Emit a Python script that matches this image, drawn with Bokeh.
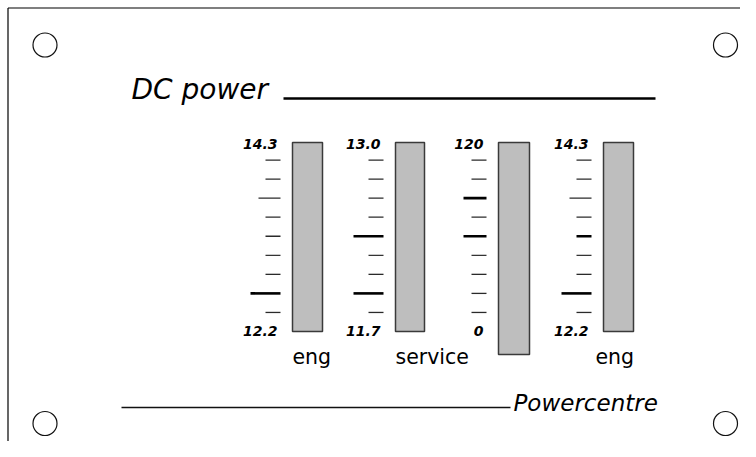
from bokeh.plotting import figure
from bokeh.models import Range1d
from bokeh.embed import file_html
from bokeh.resources import INLINE
from bokeh.core.properties import value

# ---------------- data ----------------
title_text = "DC power"
footer_text = "Powercentre"
gauge_names = ["eng", "service", "", "eng"]
gauge_min = [12.2, 11.7, 0.0, 12.2]
gauge_max = [14.3, 13.0, 120.0, 14.3]
gauge_min_labels = ["12.2", "11.7", "0", "12.2"]
gauge_max_labels = ["14.3", "13.0", "120", "14.3"]
divisions = 10
# highlighted scale marks per gauge: values and kind
mark_values = [[13.67, 12.62], [12.35, 11.96], [84.0, 60.0], [13.67, 13.25, 12.62]]
mark_kinds = [["long", "major"], ["major", "major"], ["bold", "bold"], ["long", "boldshort", "major"]]

# ---------------- layout (canvas pixel space) ----------------
W, H = 740, 441
SCALE_TOP, SCALE_BOT = 140.5, 331.0
bar_left = [292, 395, 498, 603]
bar_w = [30, 29, 31, 30]
bar_top = 142
bar_bottom = [331, 331, 354, 331]
tick_gap = 12
name_x = [292, 395, 0, 595]
kind_len = {"normal": 15, "long": 22, "major": 30, "bold": 23, "boldshort": 15}
kind_w = {"normal": 1.3, "long": 1.3, "major": 2.6, "bold": 2.6, "boldshort": 2.6}
kind_c = {"normal": "#2a2a2a", "long": "#2a2a2a", "major": "#000000", "bold": "#000000", "boldshort": "#000000"}

FONT = value("DejaVu Sans")

p = figure(width=W, height=H, x_range=Range1d(0, W), y_range=Range1d(H, 0),
           output_backend="svg", toolbar_location=None, min_border=0,
           x_axis_type=None, y_axis_type=None)
p.grid.visible = False
p.outline_line_color = None
p.background_fill_color = "white"
p.border_fill_color = "white"

# panel edges (top / left) and mounting holes
p.segment(x0=[7.5, 7.5], y0=[7.5, 7.5], x1=[W, 7.5], y1=[7.5, H], line_color="black", line_width=1.2)
p.circle(x=[44.5, 725.0, 44.5, 725.0], y=[44.5, 44.5, 423.0, 423.0], radius=12,
         fill_color=None, line_color="#111111", line_width=1.2)

# title and footer
p.text(x=[131], y=[89], text=[title_text], text_font=FONT, text_font_style="italic",
       text_font_size="28px", text_baseline="middle", text_align="left", text_color="black")
p.segment(x0=[283], y0=[98], x1=[655], y1=[98], line_color="black", line_width=2.4)
p.segment(x0=[121], y0=[407], x1=[510], y1=[407], line_color="#111111", line_width=1.3)
p.text(x=[513], y=[402], text=[footer_text], text_font=FONT, text_font_style="italic",
       text_font_size="23px", text_baseline="middle", text_align="left", text_color="black")

for i in range(4):
    m, M = gauge_min[i], gauge_max[i]
    span = M - m
    def v_at(s):
        return m + (SCALE_BOT - s) / (SCALE_BOT - SCALE_TOP) * span
    rname = f"g{i}"
    p.extra_y_ranges[rname] = Range1d(start=v_at(H), end=v_at(0))

    # gauge window
    p.quad(left=[bar_left[i]], right=[bar_left[i] + bar_w[i]], top=[bar_top], bottom=[bar_bottom[i]],
           fill_color="#bebebe", line_color="#3a3a3a", line_width=1.5)

    tr = bar_left[i] - tick_gap
    step = span / divisions
    xs0, xs1, ys, ws, cs = [], [], [], [], []
    for k in range(1, divisions):
        v = M - k * step
        kind = "normal"
        for mv, mk in zip(mark_values[i], mark_kinds[i]):
            if abs(mv - v) < step / 3:
                kind = mk
        xs0.append(tr - kind_len[kind]); xs1.append(tr); ys.append(v)
        ws.append(kind_w[kind]); cs.append(kind_c[kind])
    p.segment(x0=xs0, y0=ys, x1=xs1, y1=ys, line_width=ws, line_color=cs, y_range_name=rname)

    p.text(x=[tr - 3, tr - 3], y=[M, m], text=[gauge_max_labels[i], gauge_min_labels[i]],
           y_offset=[3, -1], text_align="right", text_baseline="middle", text_font=FONT,
           text_font_style="bold italic", text_font_size="14px", text_color="black",
           y_range_name=rname)

    if gauge_names[i]:
        p.text(x=[name_x[i]], y=[356], text=[gauge_names[i]], text_font=FONT,
               text_font_size="20.5px", text_baseline="middle", text_align="left", text_color="black")

open("out.html", "w").write(file_html(p, INLINE))
